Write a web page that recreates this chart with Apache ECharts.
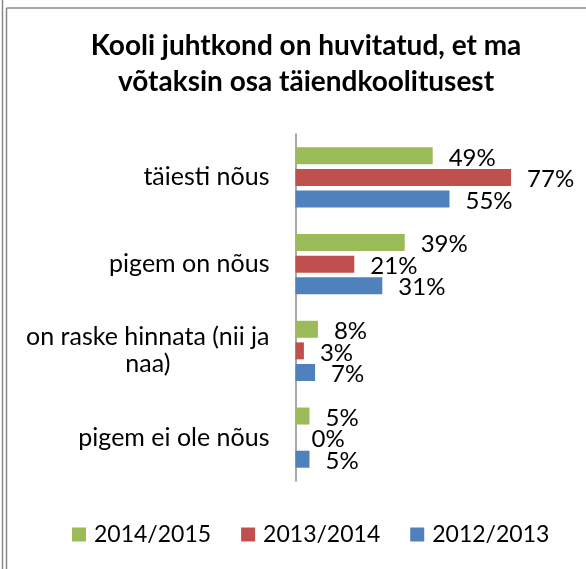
<!DOCTYPE html>
<html>
<head>
<meta charset="utf-8">
<script src="https://cdn.jsdelivr.net/npm/echarts@6/dist/echarts.min.js"></script>
<style>
html,body{margin:0;padding:0;background:#fff;}
#chart{width:586px;height:569px;}
</style>
</head>
<body>
<div id="chart"></div>
<script>
const categories = ['täiesti nõus', 'pigem on nõus', 'on raske hinnata (nii ja\nnaa)', 'pigem ei ole nõus'];
const seriesNames = ['2014/2015', '2013/2014', '2012/2013'];
const values2014_2015 = [49, 39, 8, 5];
const values2013_2014 = [77, 21, 3, 0];
const values2012_2013 = [55, 31, 7, 5];
const colors = ['#9BBB59', '#C0504D', '#4F81BD'];
const titleText = 'Kooli juhtkond on huvitatud, et ma\nvõtaksin osa täiendkoolitusest';

const FONT = 'Lato';
const seriesData = [values2014_2015, values2013_2014, values2012_2013];

const chart = echarts.init(document.getElementById('chart'), null, {renderer: 'canvas'});
chart.setOption({
  animation: false,
  backgroundColor: '#fff',
  title: {
    text: titleText,
    left: 306,
    top: 28,
    padding: 0,
    textAlign: 'center',
    textStyle: {fontFamily: FONT, fontSize: 28, fontWeight: 'bold', color: '#000', lineHeight: 36}
  },
  legend: {
    data: seriesNames,
    left: 72,
    top: 523,
    padding: 0,
    icon: 'rect',
    itemWidth: 14,
    itemHeight: 14,
    itemGap: 30,
    textStyle: {fontFamily: FONT, fontSize: 23, color: '#000', padding: [0, 0, 0, 3]}
  },
  grid: {left: 295.5, right: 10.5, top: 134, bottom: 88, containLabel: false},
  xAxis: {
    type: 'value', min: 0, max: 100, show: false
  },
  yAxis: {
    type: 'category',
    inverse: true,
    data: categories,
    axisLine: {show: true, lineStyle: {color: '#8c8c8c', width: 1.5}},
    axisTick: {show: false},
    axisLabel: {
      margin: 26,
      fontFamily: FONT, fontSize: 25, color: '#000',
      lineHeight: 27,
      formatter: function (v) {
        return v.split('\n').map(function (s) { return '{c|' + s + '}'; }).join('\n');
      },
      rich: {c: {align: 'center', fontFamily: FONT, fontSize: 25, color: '#000', lineHeight: 27}}
    },
    splitLine: {show: false}
  },
  series: seriesNames.map(function (name, i) {
    return {
      name: name,
      type: 'bar',
      data: seriesData[i],
      barWidth: 17,
      barGap: '27%',
      itemStyle: {color: colors[i]},
      label: {
        show: true, position: 'right', distance: 16,
        formatter: '{c}%', offset: [0, 2],
        fontFamily: FONT, fontSize: 24, color: '#000'
      }
    };
  }),
  graphic: [
    {type: 'line', shape: {x1: 2.5, y1: 0, x2: 2.5, y2: 569}, style: {stroke: '#888', lineWidth: 1.5}},
    {type: 'line', shape: {x1: 6.5, y1: 8, x2: 6.5, y2: 569}, style: {stroke: '#888', lineWidth: 1.5}},
    {type: 'line', shape: {x1: 6.5, y1: 8, x2: 586, y2: 8}, style: {stroke: '#888', lineWidth: 1.5}}
  ]
});
</script>
</body>
</html>
